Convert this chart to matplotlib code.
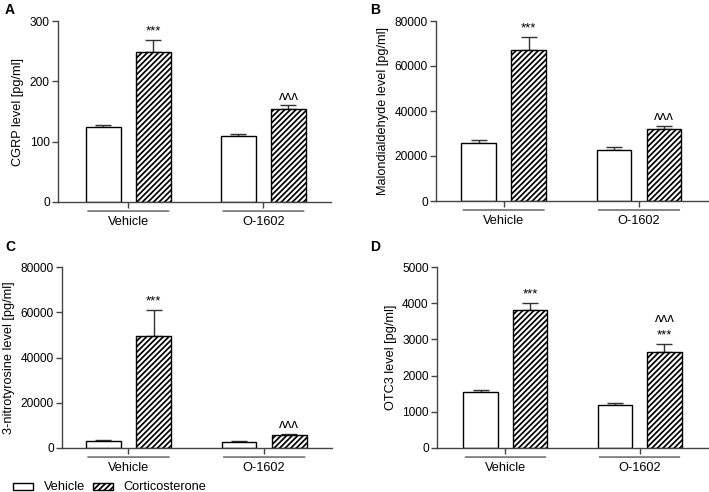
import matplotlib
matplotlib.use("Agg")
import matplotlib.pyplot as plt
import numpy as np

plt.rcParams['font.family'] = ['Liberation Sans', 'DejaVu Sans']
plt.rcParams['hatch.linewidth'] = 1.25

groups = ["Vehicle", "O-1602"]
series = ["Vehicle", "Corticosterone"]

# panel data: means and SEM (upper error)
cgrp_mean = [[124, 110], [248, 154]]
cgrp_err = [[3, 3], [20, 6]]
mda_mean = [[25800, 22700], [67300, 32000]]
mda_err = [[1200, 1300], [5700, 1300]]
ntyr_mean = [[3300, 2800], [49300, 5600]]
ntyr_err = [[300, 250], [11700, 500]]
otc3_mean = [[1550, 1180], [3800, 2660]]
otc3_err = [[50, 70], [200, 220]]

# significance annotations above corticosterone bars
cgrp_sig = ["***", "ʌʌʌ"]
mda_sig = ["***", "ʌʌʌ"]
ntyr_sig = ["***", "ʌʌʌ"]
otc3_sig = ["***", "ʌʌʌ\n***"]

panels = [
    ("A", "CGRP level [pg/ml]", cgrp_mean, cgrp_err, cgrp_sig, 300, 100),
    ("B", "Malondialdehyde level [pg/ml]", mda_mean, mda_err, mda_sig, 80000, 20000),
    ("C", "3-nitrotyrosine level [pg/ml]", ntyr_mean, ntyr_err, ntyr_sig, 80000, 20000),
    ("D", "OTC3 level [pg/ml]", otc3_mean, otc3_err, otc3_sig, 5000, 1000),
]

W, H = 709, 492
fig = plt.figure(figsize=(W / 100, H / 100), dpi=100)

# axes rectangles in pixels: left, right, top, bottom, xlim
rects = [
    (58, 331, 21, 202, (-0.52, 1.50)),
    (436, 708, 21, 201, (-0.50, 1.51)),
    (62, 332, 267, 448, (-0.49, 1.50)),
    (437, 708, 267, 448, (-0.51, 1.51)),
]
letter_pos = [(10, 10), (375, 10), (10, 247), (375, 247)]

spine_col = "#444444"
off = 0.185
bw = 0.255
HATCH = "//////"

for (letter, ylabel, means, errs, sig, ymax, ystep), (l, r, t, b, xl), lp in zip(panels, rects, letter_pos):
    ax = fig.add_axes([l / W, (H - b) / H, (r - l) / W, (b - t) / H])
    x = np.arange(len(groups))
    for si in range(2):
        xs = x + (-off if si == 0 else off)
        hatch = None if si == 0 else HATCH
        ax.bar(xs, means[si], width=bw, color="white", edgecolor="black",
               linewidth=1.0, hatch=hatch, zorder=2)
        ax.errorbar(xs, means[si], yerr=[np.zeros(2), errs[si]], fmt="none",
                    ecolor="#333333", elinewidth=1.0, capsize=6, capthick=1.0, zorder=1)
    # significance marks
    for gi in range(2):
        top = means[1][gi] + errs[1][gi]
        ax.text(x[gi] + off, top + ymax * 0.015, sig[gi], ha="center", va="bottom",
                fontsize=9.5, linespacing=1.5)
    ax.set_xlim(*xl)
    ax.set_ylim(0, ymax)
    ax.set_yticks(np.arange(0, ymax + 1, ystep))
    ax.set_xticks(x)
    ax.set_xticklabels([])
    for s in ["top", "right"]:
        ax.spines[s].set_visible(False)
    for s in ["left", "bottom"]:
        ax.spines[s].set_color(spine_col)
        ax.spines[s].set_linewidth(1.0)
    ax.tick_params(axis="both", colors=spine_col, labelcolor="black", labelsize=8.6,
                   length=4, width=1.0, pad=2)
    ax.set_ylabel(ylabel, fontsize=9.2, labelpad=4)
    # group underline and labels
    for gi, g in enumerate(groups):
        ax.annotate("", xy=(x[gi] - 0.32, -0.05), xytext=(x[gi] + 0.32, -0.05),
                    xycoords=("data", "axes fraction"),
                    arrowprops=dict(arrowstyle="-", color="#555555", lw=1.0),
                    annotation_clip=False)
        ax.text(x[gi], -0.08, g, transform=ax.get_xaxis_transform(), ha="center",
                va="top", fontsize=9.2)
    fig.text(lp[0] / W, 1 - lp[1] / H, letter, fontsize=10, fontweight="bold",
             ha="center", va="center")

# legend at bottom
from matplotlib.patches import Rectangle
lax = fig.add_axes([0, 0, 1, 1], facecolor="none")
lax.set_xlim(0, W)
lax.set_ylim(H, 0)
lax.axis("off")
lax.add_patch(Rectangle((13, 483), 20, 7, facecolor="white", edgecolor="black", lw=1.0))
lax.text(44, 487, series[0], fontsize=9.2, va="center", ha="left")
lax.add_patch(Rectangle((93, 483), 20, 7, facecolor="white", edgecolor="black", lw=1.0,
                        hatch=HATCH))
lax.text(123, 487, series[1], fontsize=9.2, va="center", ha="left")

fig.savefig("out.png", dpi=100)
